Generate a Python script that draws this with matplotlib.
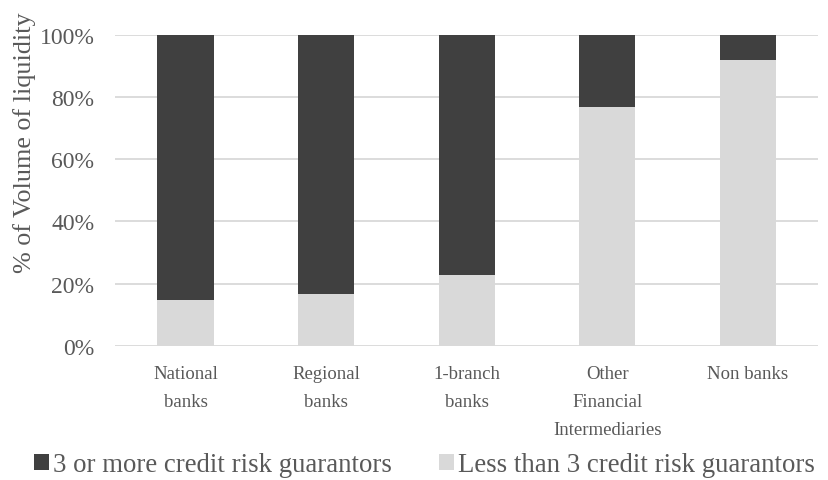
import matplotlib.pyplot as plt
import numpy as np

categories = ["National\nbanks", "Regional\nbanks", "1-branch\nbanks",
              "Other\nFinancial\nIntermediaries", "Non banks"]
less_than_3 = [14.7, 16.5, 22.6, 76.8, 91.8]
three_or_more = [100 - v for v in less_than_3]
y_ticks = [0, 20, 40, 60, 80, 100]

plt.rcParams['font.family'] = ['Liberation Serif', 'DejaVu Serif']
text_color = "#595959"

fig = plt.figure(figsize=(8.29, 4.81), dpi=100)
ax = fig.add_axes([0.139, 0.279, 0.848, 0.647])

x = np.arange(len(categories))
ax.bar(x, less_than_3, width=0.4, color="#d9d9d9", zorder=2,
       label="Less than 3 credit risk guarantors")
ax.bar(x, three_or_more, width=0.4, bottom=less_than_3, color="#404040", zorder=2,
       label="3 or more credit risk guarantors")

ax.set_xlim(-0.5, len(categories) - 0.5)
ax.set_ylim(0, 100)
ax.set_yticks(y_ticks)
ax.set_yticklabels([f"{t}%" for t in y_ticks], fontsize=17, color=text_color)
ax.set_xticks(x)
ax.set_xticklabels(categories, fontsize=13.5, color=text_color, linespacing=1.85)
ax.tick_params(length=0)
ax.tick_params(axis="y", pad=15)
ax.tick_params(axis="x", pad=14)
ax.grid(axis="y", color="#d9d9d9", linewidth=1.3, zorder=0)
ax.set_axisbelow(True)
for s in ax.spines.values():
    s.set_visible(False)
fig.text(25 / 829, 1 - 143 / 481, "% of Volume of liquidity", rotation=90,
         ha="center", va="center", fontsize=18.8, color=text_color)

handles, labels = ax.get_legend_handles_labels()
fig.legend(handles[::-1], labels[::-1], loc="center", ncol=2, frameon=False,
           bbox_to_anchor=(0.512, 0.032), fontsize=19.3, handlelength=0.55, handleheight=0.55,
           handletextpad=0.15, columnspacing=1.75, labelcolor=text_color,
           borderpad=0.1)

fig.savefig("out.png", dpi=100)
